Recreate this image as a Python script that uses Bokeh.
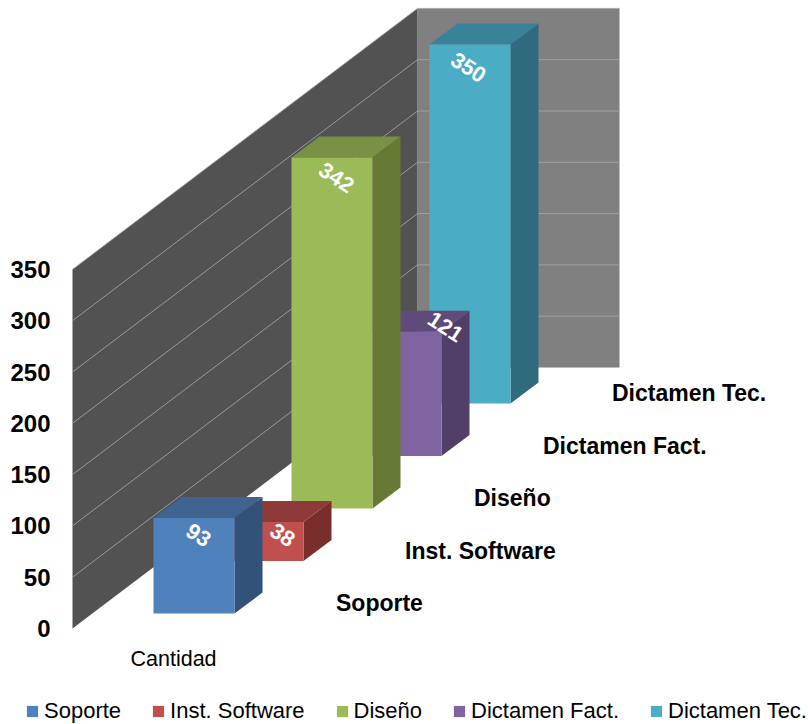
from bokeh.plotting import figure
from bokeh.models import Range1d, FixedTicker, Label, Legend, LegendItem
from bokeh.core.properties import value
from bokeh.embed import file_html
from bokeh.resources import INLINE

categories = ["Soporte", "Inst. Software", "Diseño", "Dictamen Fact.", "Dictamen Tec."]
values = [93, 38, 342, 121, 350]
ticks = [0, 50, 100, 150, 200, 250, 300, 350]
axis_title = "Cantidad"

front_colors = ["#4F81BD", "#C0504D", "#9BBB59", "#8064A2", "#4BACC6"]
top_colors = ["#3E648F", "#8E3A38", "#799144", "#5F4A7A", "#38829A"]
side_colors = ["#32527A", "#7A2E2C", "#667A36", "#513F68", "#2F6A7D"]

PX = 1.026                 # pixels per value unit
WALL_DX, WALL_DY = 345, 261 / PX
BACK_W = 202
WALL_L = 72
BAR_L, BAR_W, BAR_B = 153, 81, (628 - 613) / PX
STEP_X, STEP_Y = 69, 52.5 / PX
DEPTH_X, DEPTH_Y = 28, 21 / PX
FONT = "Liberation Sans"

p = figure(width=811, height=724, output_backend="svg", toolbar_location=None,
           x_range=Range1d(0, 811), y_range=Range1d(-96 / PX, 628 / PX),
           min_border_left=0, min_border_right=0, min_border_top=0, min_border_bottom=0)
p.outline_line_color = None
p.grid.visible = False
p.xaxis.visible = False
ax = p.yaxis[0]
ax.fixed_location = WALL_L
ax.ticker = FixedTicker(ticks=ticks)
ax.axis_line_color = None
ax.major_tick_line_color = None
ax.minor_tick_line_color = None
ax.major_tick_out = 0
ax.major_tick_in = 0
ax.major_label_standoff = 22
ax.major_label_text_font = FONT
ax.major_label_text_font_style = "bold"
ax.major_label_text_font_size = "24px"
ax.major_label_text_color = "#000000"

top_v = ticks[-1]
# walls
p.patch([WALL_L + WALL_DX, WALL_L + WALL_DX + BACK_W, WALL_L + WALL_DX + BACK_W, WALL_L + WALL_DX],
        [WALL_DY, WALL_DY, WALL_DY + top_v, WALL_DY + top_v], fill_color="#808080", line_color=None)
p.patch([WALL_L, WALL_L + WALL_DX, WALL_L + WALL_DX, WALL_L],
        [0, WALL_DY, WALL_DY + top_v, top_v], fill_color="#525252", line_color=None)
# gridlines
for t in ticks[1:]:
    p.line([WALL_L, WALL_L + WALL_DX, WALL_L + WALL_DX + BACK_W],
           [t, t + WALL_DY, t + WALL_DY], line_color="#A6A6A6", line_width=1, line_alpha=0.85)

legend_items = {}
for i in range(len(values) - 1, -1, -1):
    x0 = BAR_L + STEP_X * i
    x1 = x0 + BAR_W
    b = BAR_B + STEP_Y * i
    t = b + values[i]
    p.patch([x1, x1 + DEPTH_X, x1 + DEPTH_X, x1], [b, b + DEPTH_Y, t + DEPTH_Y, t],
            fill_color=side_colors[i], line_color=None)
    p.patch([x0, x1, x1 + DEPTH_X, x0 + DEPTH_X], [t, t, t + DEPTH_Y, t + DEPTH_Y],
            fill_color=top_colors[i], line_color=None)
    r = p.patch([x0, x1, x1, x0], [b, b, t, t], fill_color=front_colors[i], line_color=None)
    legend_items[i] = r

# data labels (rotated), offset from each bar's front-top-left corner
lab_dx = [45, 60, 45, 85, 39]
lab_dy = [17, 13, 20, -5, 23]
p.text([BAR_L + STEP_X * i + lab_dx[i] for i in range(5)],
       [BAR_B + STEP_Y * i + values[i] - lab_dy[i] / PX for i in range(5)],
       text=[str(v) for v in values], angle=-0.58, text_color="#FFFFFF",
       text_font=value(FONT), text_font_style="bold", text_font_size="22px",
       text_align="center", text_baseline="middle")

# depth axis labels
p.text([335.5 + STEP_X * i for i in range(5)], [(628 - 602.5) / PX + STEP_Y * i for i in range(5)],
       text=categories, text_color="#000000", text_font=value(FONT), text_font_style="bold",
       text_font_size="23px", text_align="left", text_baseline="middle")

p.add_layout(Label(x=130, y=-30 / PX, text=axis_title, text_font=FONT, text_font_size="21.5px",
                   text_color="#000000", text_align="left", text_baseline="middle"))

legend = Legend(items=[LegendItem(label=c, renderers=[legend_items[i]]) for i, c in enumerate(categories)],
                orientation="horizontal", location=(25, 0), margin=0, padding=0, spacing=30,
                glyph_width=14, glyph_height=14, label_standoff=5, label_height=24,
                label_text_font=FONT, label_text_font_size="22px", label_text_color="#000000",
                border_line_color=None, background_fill_color=None, background_fill_alpha=0)
p.add_layout(legend)

open("out.html", "w").write(file_html(p, INLINE))
